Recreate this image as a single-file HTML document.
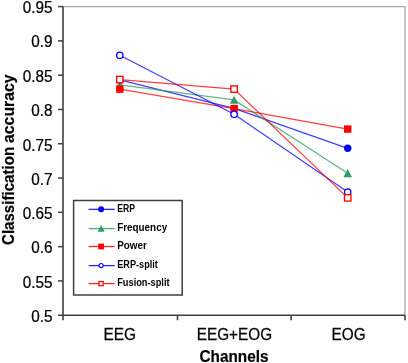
<!DOCTYPE html>
<html><head><meta charset="utf-8"><style>
html,body{margin:0;padding:0;background:#fff;}
body{width:408px;height:363px;overflow:hidden;}
svg{display:block;will-change:transform;}
.t{font-family:"Liberation Sans",sans-serif;font-size:16.8px;fill:#000;stroke:#000;stroke-width:0.25px;}
.b{font-family:"Liberation Sans",sans-serif;font-size:16.4px;font-weight:bold;fill:#000;stroke:#000;stroke-width:0.2px;}
.l{font-family:"Liberation Sans",sans-serif;font-size:10px;font-weight:bold;fill:#000;}
</style></head><body>
<svg width="408" height="363" viewBox="0 0 408 363">
<path d="M63,6.60 H405 V315.20" fill="none" stroke="#a8a8a8" stroke-width="1.3"/>
<path d="M63,6.60 V320.20 M63,315.20 H405" fill="none" stroke="#404040" stroke-width="1.6"/>
<line x1="58" y1="6.60" x2="63" y2="6.60" stroke="#404040" stroke-width="1.5"/>
<line x1="58" y1="40.89" x2="63" y2="40.89" stroke="#404040" stroke-width="1.5"/>
<line x1="58" y1="75.18" x2="63" y2="75.18" stroke="#404040" stroke-width="1.5"/>
<line x1="58" y1="109.47" x2="63" y2="109.47" stroke="#404040" stroke-width="1.5"/>
<line x1="58" y1="143.76" x2="63" y2="143.76" stroke="#404040" stroke-width="1.5"/>
<line x1="58" y1="178.04" x2="63" y2="178.04" stroke="#404040" stroke-width="1.5"/>
<line x1="58" y1="212.33" x2="63" y2="212.33" stroke="#404040" stroke-width="1.5"/>
<line x1="58" y1="246.62" x2="63" y2="246.62" stroke="#404040" stroke-width="1.5"/>
<line x1="58" y1="280.91" x2="63" y2="280.91" stroke="#404040" stroke-width="1.5"/>
<line x1="58" y1="315.20" x2="63" y2="315.20" stroke="#404040" stroke-width="1.5"/>
<line x1="177.5" y1="315.20" x2="177.5" y2="320.20" stroke="#404040" stroke-width="1.6"/>
<line x1="291.1" y1="315.20" x2="291.1" y2="320.20" stroke="#404040" stroke-width="1.6"/>
<line x1="405" y1="315.20" x2="405" y2="320.20" stroke="#404040" stroke-width="1.6"/>
<text x="52.5" y="13.40" text-anchor="end" class="t" transform="translate(52.5 0) scale(0.91 1) translate(-52.5 0)">0.95</text>
<text x="52.5" y="47.09" text-anchor="end" class="t" transform="translate(52.5 0) scale(0.91 1) translate(-52.5 0)">0.9</text>
<text x="52.5" y="81.98" text-anchor="end" class="t" transform="translate(52.5 0) scale(0.91 1) translate(-52.5 0)">0.85</text>
<text x="52.5" y="116.27" text-anchor="end" class="t" transform="translate(52.5 0) scale(0.91 1) translate(-52.5 0)">0.8</text>
<text x="52.5" y="150.56" text-anchor="end" class="t" transform="translate(52.5 0) scale(0.91 1) translate(-52.5 0)">0.75</text>
<text x="52.5" y="184.84" text-anchor="end" class="t" transform="translate(52.5 0) scale(0.91 1) translate(-52.5 0)">0.7</text>
<text x="52.5" y="219.13" text-anchor="end" class="t" transform="translate(52.5 0) scale(0.91 1) translate(-52.5 0)">0.65</text>
<text x="52.5" y="253.42" text-anchor="end" class="t" transform="translate(52.5 0) scale(0.91 1) translate(-52.5 0)">0.6</text>
<text x="52.5" y="287.71" text-anchor="end" class="t" transform="translate(52.5 0) scale(0.91 1) translate(-52.5 0)">0.55</text>
<text x="52.5" y="322.00" text-anchor="end" class="t" transform="translate(52.5 0) scale(0.91 1) translate(-52.5 0)">0.5</text>
<text x="119.75" y="339.9" text-anchor="middle" class="t" transform="translate(119.75 0) scale(0.92 1) translate(-119.75 0)">EEG</text>
<text x="234.45" y="339.9" text-anchor="middle" class="t" transform="translate(234.45 0) scale(0.9125 1) translate(-234.45 0)">EEG+EOG</text>
<text x="348.55" y="339.9" text-anchor="middle" class="t" transform="translate(348.55 0) scale(0.914 1) translate(-348.55 0)">EOG</text>
<text x="234.0" y="361.9" text-anchor="middle" class="b" transform="translate(234.0 0) scale(0.934 1) translate(-234.0 0)">Channels</text>
<text x="0" y="0" class="b" transform="translate(14 245.0) rotate(-90) scale(0.921 1)">Classification</text>
<text x="0" y="0" class="b" transform="translate(14 143.0) rotate(-90) scale(0.9655 1)">accuracy</text>
<polyline points="119.8,79.98 234.1,108.44 347.7,148.28" fill="none" stroke="#0000ff" stroke-width="1.3" stroke-opacity="0.75"/>
<circle cx="119.80" cy="79.98" r="3.7" fill="#0000ff"/>
<circle cx="234.10" cy="108.44" r="3.7" fill="#0000ff"/>
<circle cx="347.70" cy="148.28" r="3.7" fill="#0000ff"/>
<polyline points="119.8,84.98 234.1,99.93 347.7,173.31" fill="none" stroke="#339966" stroke-width="1.3" stroke-opacity="0.75"/>
<polygon points="119.80,80.68 124.10,88.88 115.50,88.88" fill="#339966"/>
<polygon points="234.10,95.63 238.40,103.83 229.80,103.83" fill="#339966"/>
<polygon points="347.70,169.01 352.00,177.21 343.40,177.21" fill="#339966"/>
<polyline points="119.8,89.17 234.1,108.64 347.7,129.08" fill="none" stroke="#ff0000" stroke-width="1.3" stroke-opacity="0.75"/>
<rect x="116.10" y="85.47" width="7.4" height="7.4" fill="#ff0000"/>
<rect x="230.40" y="104.94" width="7.4" height="7.4" fill="#ff0000"/>
<rect x="344.00" y="125.38" width="7.4" height="7.4" fill="#ff0000"/>
<polyline points="119.8,55.29 234.1,114.27 347.7,192.03" fill="none" stroke="#0000ff" stroke-width="1.3" stroke-opacity="0.75"/>
<circle cx="119.80" cy="55.29" r="3.2" fill="#fff" stroke="#0000ff" stroke-width="1.3"/>
<circle cx="234.10" cy="114.27" r="3.2" fill="#fff" stroke="#0000ff" stroke-width="1.3"/>
<circle cx="347.70" cy="192.03" r="3.2" fill="#fff" stroke="#0000ff" stroke-width="1.3"/>
<polyline points="119.8,79.57 234.1,89.10 347.7,197.86" fill="none" stroke="#ff0000" stroke-width="1.3" stroke-opacity="0.75"/>
<rect x="116.60" y="76.37" width="6.4" height="6.4" fill="#fff" stroke="#ff0000" stroke-width="1.35"/>
<rect x="230.90" y="85.90" width="6.4" height="6.4" fill="#fff" stroke="#ff0000" stroke-width="1.35"/>
<rect x="344.50" y="194.66" width="6.4" height="6.4" fill="#fff" stroke="#ff0000" stroke-width="1.35"/>
<rect x="73.6" y="200.5" width="108.6" height="94.5" fill="#fff" stroke="#404040" stroke-width="1.5"/>
<line x1="88.7" y1="209.35" x2="114.7" y2="209.35" stroke="#0000ff" stroke-width="1.3" stroke-opacity="0.85"/>
<circle cx="101.10" cy="209.35" r="3.0" fill="#0000ff"/>
<text x="117.2" y="211.65" class="l" transform="translate(117.2 0) scale(0.865 1) translate(-117.2 0)">ERP</text>
<line x1="88.7" y1="228.60" x2="114.7" y2="228.60" stroke="#339966" stroke-width="1.3" stroke-opacity="0.85"/>
<polygon points="101.10,225.10 104.60,231.70 97.60,231.70" fill="#339966"/>
<text x="117.2" y="230.90" class="l" transform="translate(117.2 0) scale(0.988 1) translate(-117.2 0)">Frequency</text>
<line x1="88.7" y1="246.50" x2="114.7" y2="246.50" stroke="#ff0000" stroke-width="1.3" stroke-opacity="0.85"/>
<rect x="98.20" y="243.60" width="5.8" height="5.8" fill="#ff0000"/>
<text x="117.2" y="248.80" class="l" transform="translate(117.2 0) scale(0.988 1) translate(-117.2 0)">Power</text>
<line x1="88.7" y1="265.60" x2="114.7" y2="265.60" stroke="#0000ff" stroke-width="1.3" stroke-opacity="0.85"/>
<circle cx="101.10" cy="265.60" r="2.05" fill="#fff" stroke="#0000ff" stroke-width="1.1"/>
<text x="117.2" y="267.90" class="l" transform="translate(117.2 0) scale(0.915 1) translate(-117.2 0)">ERP-split</text>
<line x1="88.7" y1="283.60" x2="114.7" y2="283.60" stroke="#ff0000" stroke-width="1.3" stroke-opacity="0.85"/>
<rect x="99.00" y="281.50" width="4.2" height="4.2" fill="#fff" stroke="#ff0000" stroke-width="1.2"/>
<text x="117.2" y="285.90" class="l" transform="translate(117.2 0) scale(0.926 1) translate(-117.2 0)">Fusion-split</text>
</svg>
</body></html>
